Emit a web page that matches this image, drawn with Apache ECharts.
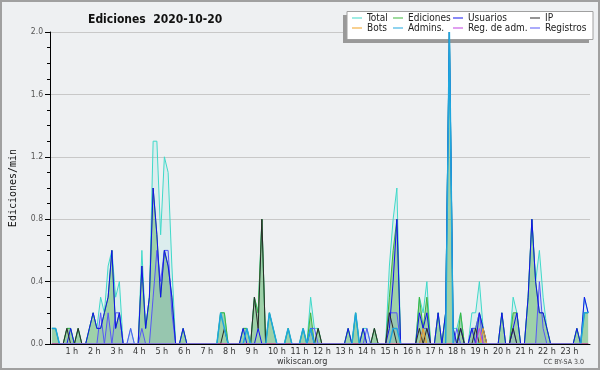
<!DOCTYPE html>
<html><head><meta charset="utf-8">
<script src="https://cdn.jsdelivr.net/npm/echarts@6/dist/echarts.min.js"></script>
<style>html,body{margin:0;padding:0;background:#eef0f2}#c{width:600px;height:370px}</style>
</head><body><div id="c"></div>
<script>
// 10-minute slots, values in edits/min, one row per hour (6 slots)
const total = [
 .1,.1,0,0,.1,.1,  0,.1,0,0,.1,.2,  .1,.3,.2,.5,.6,.3,  .4,0,0,.1,0,0,
 .6,.1,.3,1.3,1.3,.7,  1.2,1.1,.5,0,0,.1,  0,0,0,0,0,0,  0,0,0,.2,.2,0,
 0,0,0,.1,.1,0,  .3,.2,.8,0,.2,.1,  0,0,0,.1,0,0,  0,.1,0,.3,.1,.1,
 0,0,0,0,0,0,  0,.1,0,.2,0,.1,  .1,0,.1,0,0,0,  .5,.8,1.0,0,0,0,
 0,0,.3,.2,.4,0,  0,.2,0,.2,2.0,.1,  .1,.2,0,0,.2,.2,  .4,.1,0,0,0,0,
 .2,0,0,.3,.2,0,  0,.3,.8,.4,.6,.3,  .1,0,0,0,0,0,  0,0,.1,0,.3,.2
];
const ediciones = [
 .1,.1,0,0,.1,.1,  0,.1,0,0,.1,.2,  .1,.1,.2,.3,.6,.1,  .2,0,0,0,0,0,
 .5,.1,.3,1.0,.7,.3,  .6,.5,.3,0,0,.1,  0,0,0,0,0,0,  0,0,0,.2,.2,0,
 0,0,0,.1,.1,0,  .3,.2,.8,0,.2,.1,  0,0,0,.1,0,0,  0,.1,0,.2,0,.1,
 0,0,0,0,0,0,  0,.1,0,.2,0,.1,  0,0,.1,0,0,0,  .3,.6,.8,0,0,0,
 0,0,.3,.1,.3,0,  0,.2,0,.2,2.0,.1,  0,.2,0,0,.1,.1,  .2,.1,0,0,0,0,
 .2,0,0,.2,.2,0,  0,.3,.8,.4,.2,.2,  .1,0,0,0,0,0,  0,0,.1,0,.2,.2
];
const usuarios = [
 0,0,0,0,0,.1,  0,0,0,0,.1,.2,  .1,.1,.2,.3,.6,.1,  .2,0,0,0,0,0,
 .5,.1,.3,1.0,.7,.3,  .6,.5,.3,0,0,.1,  0,0,0,0,0,0,  0,0,0,0,0,0,
 0,0,0,.1,0,0,  0,.1,0,0,0,0,  0,0,0,0,0,0,  0,0,0,.1,0,0,
 0,0,0,0,0,0,  0,.1,0,0,0,.1,  0,0,0,0,0,0,  .1,.4,.8,0,0,0,
 0,0,.2,.1,.2,0,  0,.2,0,.2,2.0,.1,  0,.1,0,0,.1,0,  .2,.1,0,0,0,0,
 .2,0,0,.1,.2,0,  0,.3,.8,.4,.2,.2,  .1,0,0,0,0,0,  0,0,.1,0,.3,.2
];
const ip = [
 0,0,0,0,.1,0,  0,.1,0,0,0,0,  0,0,0,0,0,0,  0,0,0,0,0,0,
 0,0,0,0,0,0,  0,0,0,0,0,0,  0,0,0,0,0,0,  0,0,0,0,.1,0,
 0,0,0,0,0,0,  .3,.1,.8,0,0,0,  0,0,0,0,0,0,  0,0,0,0,0,.1,
 0,0,0,0,0,0,  0,0,0,0,0,0,  0,0,.1,0,0,0,  .2,.1,0,0,0,0,
 0,0,.1,0,.1,0,  0,0,0,0,0,0,  0,.1,0,0,0,.1,  0,0,0,0,0,0,
 0,0,0,.1,0,0,  0,0,0,0,0,0,  0,0,0,0,0,0,  0,0,0,0,0,0
];
const bots = [
 0,0,0,0,0,0,  0,0,0,0,0,0,  0,0,0,0,0,0,  0,0,0,0,0,0,
 0,0,0,0,0,0,  0,0,0,0,0,0,  0,0,0,0,0,0,  0,0,0,0,0,0,
 0,0,0,0,0,0,  0,0,0,0,0,0,  0,0,0,0,0,0,  0,0,0,0,0,0,
 0,0,0,0,0,0,  0,0,0,0,0,0,  0,0,0,0,0,0,  0,0,0,0,0,0,
 0,0,0,.1,0,0,  0,0,0,0,0,0,  0,0,0,0,0,0,  0,.1,0,0,0,0,
 0,0,0,0,0,0,  0,0,0,0,0,0,  0,0,0,0,0,0,  0,0,0,0,0,0
];
const admins = [
 .1,.1,0,0,0,0,  0,0,0,0,0,0,  0,0,0,0,0,0,  0,0,0,0,0,0,
 0,0,0,0,0,0,  0,0,0,0,0,0,  0,0,0,0,0,0,  0,0,0,.2,.1,0,
 0,0,0,0,.1,0,  0,0,0,0,.2,.1,  0,0,0,.1,0,0,  0,.1,0,.1,0,0,
 0,0,0,0,0,0,  0,0,0,.2,0,0,  0,0,0,0,0,0,  0,.1,.1,0,0,0,
 0,0,0,0,0,0,  0,0,0,0,2.0,0,  0,0,0,0,0,0,  0,0,0,0,0,0,
 0,0,0,0,0,0,  0,0,0,0,0,0,  0,0,0,0,0,0,  0,0,0,0,.2,.2
];
const regAdm = [
 0,0,0,0,0,0,  0,0,0,0,0,0,  0,0,0,0,0,0,  0,0,0,0,0,0,
 0,0,0,0,0,0,  0,0,0,0,0,0,  0,0,0,0,0,0,  0,0,0,0,0,0,
 0,0,0,0,0,0,  0,0,0,0,0,0,  0,0,0,0,0,0,  0,0,0,0,0,0,
 0,0,0,0,0,0,  0,0,0,0,0,0,  0,0,0,0,0,0,  0,0,0,0,0,0,
 0,0,0,0,0,0,  0,0,0,0,0,0,  0,0,0,0,0,0,  .1,0,0,0,0,0,
 0,0,0,0,0,0,  0,0,0,0,0,0,  0,0,0,0,0,0,  0,0,0,0,0,0
];
const registros = [
 0,0,0,0,0,0,  0,0,0,0,0,0,  0,.2,0,.2,0,.2,  .2,0,0,.1,0,0,
 .1,0,0,.3,.6,.4,  .6,.6,.2,0,0,0,  0,0,0,0,0,0,  0,0,0,0,0,0,
 0,0,0,0,0,0,  0,0,0,0,0,0,  0,0,0,0,0,0,  0,0,0,.1,.1,0,
 0,0,0,0,0,0,  0,0,0,0,0,0,  .1,0,0,0,0,0,  .2,.2,.2,0,0,0,
 0,0,0,.1,.1,0,  0,0,0,0,0,0,  .1,0,0,0,.1,.1,  .2,0,0,0,0,0,
 0,0,0,.1,0,0,  0,0,0,0,.4,.1,  0,0,0,0,0,0,  0,0,0,0,0,0
];
const hourLabels = ['1 h','2 h','3 h','4 h','5 h','6 h','7 h','8 h','9 h','10 h','11 h','12 h',
 '13 h','14 h','15 h','16 h','17 h','18 h','19 h','20 h','21 h','22 h','23 h'];
const yTicks = [0, 0.4, 0.8, 1.2, 1.6, 2.0];

const slots = [];
for (let h = 0; h < 24; h++) for (let m = 0; m < 60; m += 10) slots.push(h + ':' + (m < 10 ? '0' + m : m));

const FONT = "'DejaVu Sans Condensed', 'DejaVu Sans', sans-serif";
function ser(name, data, color, opts) {
  return Object.assign({
    name, type: 'line', data, symbol: 'none', smooth: false,
    lineStyle: { color, width: 1 }, itemStyle: { color }, z: 2, animation: false
  }, opts || {});
}
const legendPos = [
  ['Total', 352, 13], ['Ediciones', 393, 13], ['Usuarios', 453, 13], ['IP', 530, 13],
  ['Bots', 352, 23], ['Admins.', 393, 23], ['Reg. de adm.', 453, 23], ['Registros', 530, 23]
];
const chart = echarts.init(document.getElementById('c'), null, { renderer: 'canvas' });
chart.setOption({
  backgroundColor: '#eef0f2',
  animation: false,
  title: { text: 'Ediciones  2020-10-20', left: 83, top: 9,
    textStyle: { fontFamily: FONT, fontWeight: 'bold', fontSize: 12, color: '#111' } },
  grid: { left: 46, right: 10, top: 32, bottom: 26 },
  legend: legendPos.map(([n, x, y]) => ({
    data: [n], left: x, top: y, padding: 0, icon: 'rect', itemWidth: 10, itemHeight: 1,
    selectedMode: false, z: 5,
    textStyle: { fontFamily: FONT, fontSize: 10, color: '#222', padding: [0, 0, 0, 0] }
  })),
  xAxis: {
    type: 'category', data: slots, boundaryGap: true, z: 5,
    axisLine: { lineStyle: { color: '#000', width: 1 } },
    axisTick: { interval: 0, length: 3, lineStyle: { color: '#000' } },
    axisLabel: { interval: (i) => i % 6 === 0 && i > 0, margin: 3, align: 'center',
      formatter: (v, i) => '{a|' + (hourLabels[i / 6 - 1] || '') + '}',
      rich: { a: { width: 18, align: 'left', fontFamily: FONT, fontSize: 9, color: '#333' } },
      fontFamily: FONT, fontSize: 9, color: '#333' },
    splitLine: { show: false }
  },
  yAxis: {
    type: 'value', min: yTicks[0], max: yTicks[yTicks.length - 1], interval: 0.4,
    name: 'Ediciones/min', nameLocation: 'middle', nameGap: 32, nameRotate: 90,
    nameTextStyle: { fontFamily: "'DejaVu Sans Mono', monospace", fontSize: 10, color: '#111' },
    axisLine: { show: true, lineStyle: { color: '#000' } },
    axisTick: { show: true, length: 5, lineStyle: { color: '#000' } },
    minorTick: { show: true, splitNumber: 4, length: 3, lineStyle: { color: '#000' } },
    axisLabel: { formatter: (v) => v.toFixed(1), margin: 7, fontFamily: FONT, fontSize: 8.5, color: '#555' },
    splitLine: { lineStyle: { color: '#c8c8c8', width: 1 } }
  },
  graphic: [
    { type: 'rect', shape: { x: 1, y: 1, width: 598, height: 368 }, style: { fill: 'none', stroke: '#a0a0a0', lineWidth: 2 }, z: 0, silent: true },
    { type: 'rect', shape: { x: 343, y: 15, width: 246, height: 28 }, style: { fill: '#999999' }, z: 1, silent: true },
    { type: 'rect', shape: { x: 347, y: 11.5, width: 246, height: 28 }, style: { fill: '#ffffff', stroke: '#a0a0a0', lineWidth: 1 }, z: 1, silent: true },
    { type: 'text', left: 277, top: 357, style: { text: 'wikiscan.org', font: "9px " + FONT, fill: '#333' }, z: 5 },
    { type: 'text', right: 16, top: 359, style: { text: 'CC BY-SA 3.0', font: "7px " + FONT, fill: '#444' }, z: 5 }
  ],
  series: [
    ser('Total', total, '#3fd9c9', { areaStyle: { color: 'rgba(64,216,200,0.14)' } }),
    ser('Ediciones', ediciones, '#3db63d', { areaStyle: { color: 'rgba(60,165,60,0.55)' } }),
    ser('Registros', registros, '#5656f6', { areaStyle: { color: 'rgba(86,86,246,0.12)' } }),
    ser('Usuarios', usuarios, '#1212ee'),
    ser('IP', ip, '#2a2a2a'),
    ser('Bots', bots, '#f0a020', { areaStyle: { color: 'rgba(240,160,32,0.6)' } }),
    ser('Admins.', admins, '#1ea6de', { lineStyle: { color: '#1ea6de', width: 1.5 } }),
    ser('Reg. de adm.', regAdm, '#c040e0')
  ]
});
</script></body></html>
